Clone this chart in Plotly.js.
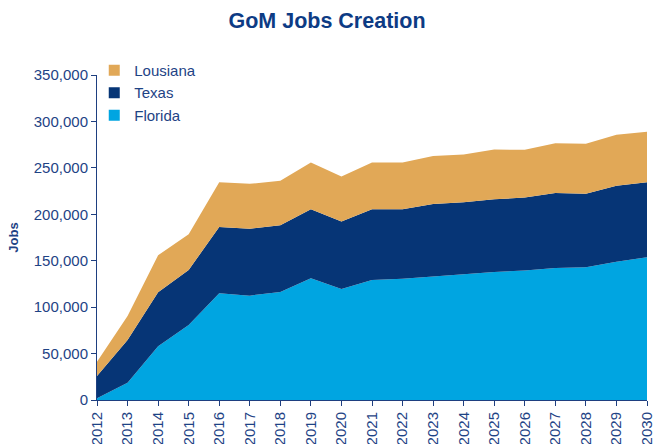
<!DOCTYPE html>
<html>
<head>
<meta charset="utf-8">
<script src="https://cdn.plot.ly/plotly-3.0.1.min.js"></script>
<style>html,body{margin:0;padding:0;background:#fff;}#chart{width:654px;height:444px;}</style>
</head>
<body>
<div id="chart"></div>
<script>
const years = ['2012','2013','2014','2015','2016','2017','2018','2019','2020','2021','2022','2023','2024','2025','2026','2027','2028','2029','2030'];
const florida = [2000,18700,58000,80800,115000,112400,116400,131100,119600,129300,130700,132900,135400,137900,139400,142200,143000,149000,153800];
const texas = [23900,46000,58000,59200,71400,71900,71800,74400,72600,76200,74800,78300,77600,78300,78600,80800,79000,81600,80800];
const lousiana = [15400,25800,40000,38500,48200,48500,47800,50200,48400,50200,50200,51700,51400,53500,51400,53600,53900,55000,54200];
const seriesNames = ['Florida','Texas','Lousiana'];
const colors = ['#00A5E1','#063576','#E1A857'];
const seriesData = [florida, texas, lousiana];

const traces = [];
seriesData.forEach((vals, i) => {
  traces.push({
    type: 'scatter', x: years, y: vals, name: seriesNames[i],
    stackgroup: 'one', mode: 'none', fillcolor: colors[i],
    line: {width: 0}, showlegend: false, hoverinfo: 'x+y+name'
  });
});
seriesData.forEach((vals, i) => {
  traces.push({
    type: 'scatter', x: [null], y: [null], name: seriesNames[i],
    mode: 'markers', marker: {symbol: 'square', size: 11, color: colors[i]},
    showlegend: true
  });
});

const txt = '#1E4385';
const layout = {
  width: 654, height: 444,
  margin: {l: 97, r: 7, t: 75, b: 44},
  paper_bgcolor: '#fff', plot_bgcolor: '#fff',
  font: {family: 'Liberation Sans, Arial, sans-serif', size: 15, color: txt},
  title: {text: '<b>GoM Jobs Creation</b>', x: 0.5, xanchor: 'center', y: 0.955, yanchor: 'middle',
          font: {size: 21.5, color: '#0D3B84', family: 'Liberation Sans, Arial, sans-serif'}},
  xaxis: {
    type: 'category', range: [0, years.length - 1], tickangle: -90,
    showgrid: false, zeroline: false, showline: true, linecolor: '#1E3F80', linewidth: 1,
    ticks: 'outside', ticklen: 5, tickcolor: '#1E3F80',
    tickfont: {size: 15, color: txt}, fixedrange: true
  },
  yaxis: {
    range: [0, 350000], dtick: 50000, tickformat: ',d',
    showgrid: false, zeroline: false, showline: true, linecolor: '#1E3F80', linewidth: 1,
    ticks: 'outside', ticklen: 5, tickcolor: '#1E3F80',
    tickfont: {size: 15, color: txt},
    title: {text: '<b>Jobs</b>', font: {size: 13, color: '#1E4385'}, standoff: 12},
    fixedrange: true
  },
  legend: {
    x: -0.005, y: 1.065, xanchor: 'left', yanchor: 'top',
    traceorder: 'reversed', bgcolor: 'rgba(0,0,0,0)',
    font: {size: 15, color: txt}, itemwidth: 30, tracegroupgap: 0
  },
  showlegend: true
};
Plotly.newPlot('chart', traces, layout, {displayModeBar: false, staticPlot: true});
</script>
</body>
</html>
